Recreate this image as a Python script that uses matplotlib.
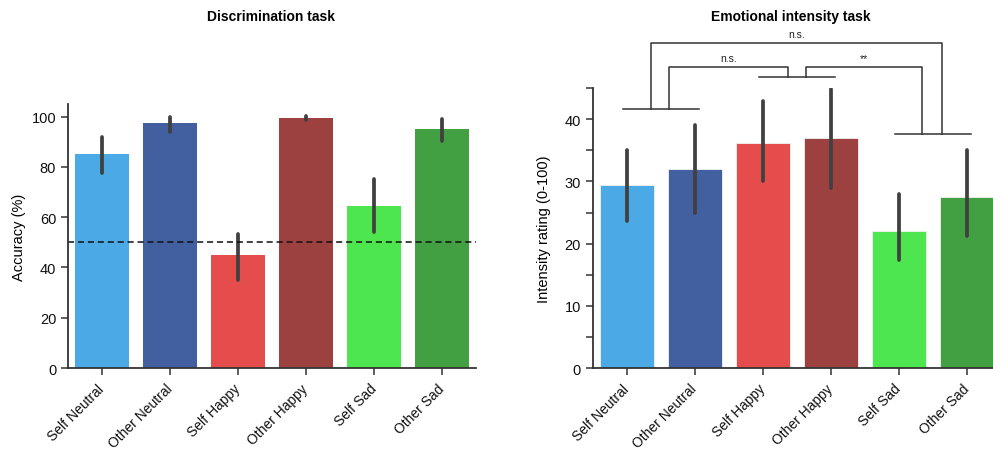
import numpy as np
import matplotlib
matplotlib.use("Agg")
import matplotlib.pyplot as plt

plt.rcParams['font.family'] = ['Liberation Sans', 'DejaVu Sans']

categories = ["Self Neutral", "Other Neutral", "Self Happy", "Other Happy", "Self Sad", "Other Sad"]
colors = ["#4ba9e6", "#4260a0", "#e54c4c", "#9c4040", "#4ee64e", "#42a042"]

# discrimination task (accuracy %)
acc_mean = [85.2, 97.5, 44.8, 99.5, 64.5, 95.2]
acc_low = [77.5, 94.0, 35.0, 98.6, 54.0, 90.2]
acc_high = [92.0, 100.0, 53.5, 100.3, 75.0, 99.0]

# emotional intensity task (0-100)
int_mean = [29.5, 32.0, 36.2, 37.0, 22.0, 27.5]
int_low = [23.6, 25.0, 30.1, 29.0, 17.3, 21.3]
int_high = [35.1, 39.1, 43.0, 44.9, 28.0, 35.1]

# significance brackets: pair centres, base heights, labels
pair_x = [0.5, 2.5, 4.5]
pair_y = [41.6, 46.8, 37.6]
brackets = [  # (x1, x2, base1, base2, top, label)
    (0.62, 2.37, 41.6, 46.8, 48.4, "n.s."),
    (2.63, 4.34, 46.8, 37.6, 48.4, "**"),
    (0.35, 4.63, 41.6, 37.6, 52.3, "n.s."),
]

fig = plt.figure(figsize=(9.93, 4.52), dpi=100)
ax1 = fig.add_axes([0.0685, 0.1836, 0.411, 0.584])
ax2 = fig.add_axes([0.597, 0.1836, 0.411, 0.619])

x = np.arange(len(categories))
spine_c = "#333333"
err_c = "#404040"


def style(ax):
    for s in ["top", "right"]:
        ax.spines[s].set_visible(False)
    for s in ["left", "bottom"]:
        ax.spines[s].set_color(spine_c)
        ax.spines[s].set_linewidth(1.3)
    ax.tick_params(axis="both", colors=spine_c, labelcolor="#111111", labelsize=10.5,
                   length=5, width=1.1, which="both")
    ax.tick_params(axis="x", pad=8, labelsize=10)
    ax.set_xticks(x)
    ax.set_xticklabels(categories, rotation=45, ha="right", va="center",
                       rotation_mode="anchor")
    ax.set_xlim(-0.5, 5.5)


# left panel
ax1.bar(x, acc_mean, width=0.8, color=colors)
for i in x:
    ax1.plot([i, i], [acc_low[i], acc_high[i]], color=err_c, lw=2.7, solid_capstyle="round")
ax1.axhline(50, color="#111111", ls="--", lw=1.1, dashes=(4, 2.5))
ax1.set_ylim(0, 105)
ax1.set_yticks([0, 20, 40, 60, 80, 100])
ax1.set_ylabel("Accuracy (%)", fontsize=10.5)
style(ax1)

# right panel
ax2.bar(x, int_mean, width=0.8, color=colors, edgecolor="#f2f2f2", linewidth=0.6)
for i in x:
    ax2.plot([i, i], [int_low[i], int_high[i]], color=err_c, lw=2.7, solid_capstyle="round")
ax2.set_ylim(0, 45)
ax2.set_yticks([0, 10, 20, 30, 40])
ax2.set_yticks([5, 15, 25, 35, 45], minor=True)
ax2.set_ylabel("Intensity rating (0-100)", fontsize=10.5, labelpad=10)
style(ax2)

fig.text(271 / 993, 1 - 17 / 452, "Discrimination task", fontsize=10, fontweight="bold",
         ha="center", va="center")
fig.text(791 / 993, 1 - 17 / 452, "Emotional intensity task", fontsize=10,
         fontweight="bold", ha="center", va="center")

line_kw = dict(color="#333333", lw=1.1, clip_on=False)
for c, h in zip(pair_x, pair_y):
    ax2.plot([c - 0.56, c + 0.56], [h, h], **line_kw)
for x1, x2, b1, b2, top, lab in brackets:
    ax2.plot([x1, x1, x2, x2], [b1, top, top, b2], **line_kw)
    ax2.text((x1 + x2) / 2, top + 0.6, lab, ha="center", va="bottom", fontsize=7.5,
             color="#222222", clip_on=False)

fig.savefig("out.png", dpi=100)
